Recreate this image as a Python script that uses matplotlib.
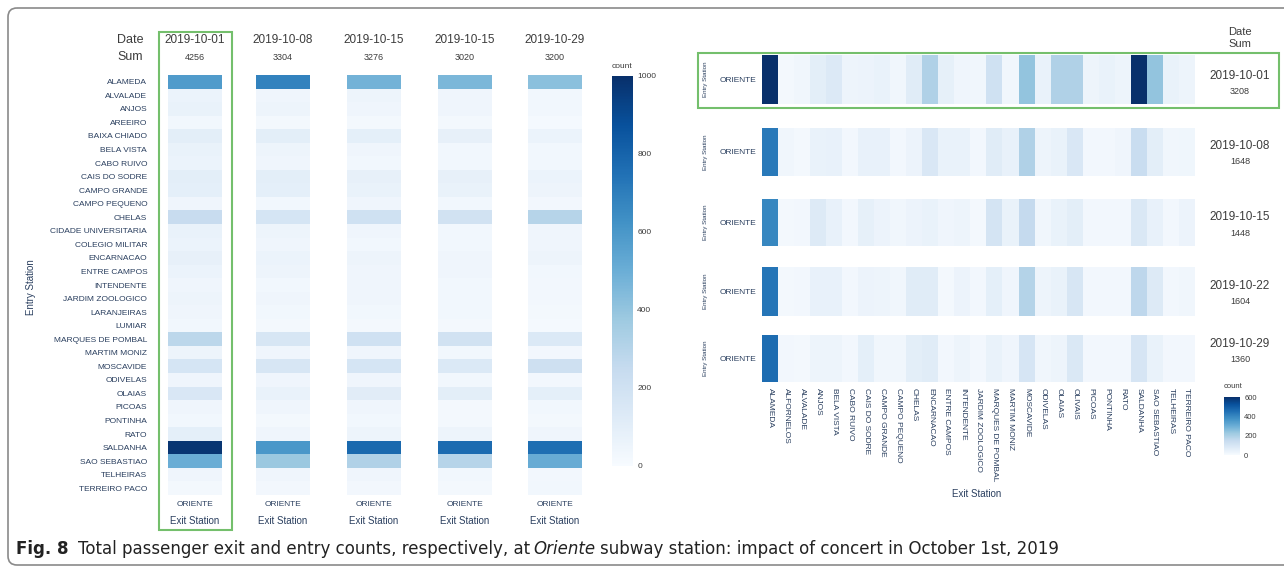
import numpy as np
import matplotlib.pyplot as plt
from matplotlib.patches import FancyBboxPatch, Rectangle

W, H = 1284, 571

# exits at ORIENTE, by station of entry
entry_stations = ['ALAMEDA', 'ALVALADE', 'ANJOS', 'AREEIRO', 'BAIXA CHIADO', 'BELA VISTA',
                  'CABO RUIVO', 'CAIS DO SODRE', 'CAMPO GRANDE', 'CAMPO PEQUENO', 'CHELAS',
                  'CIDADE UNIVERSITARIA', 'COLEGIO MILITAR', 'ENCARNACAO', 'ENTRE CAMPOS',
                  'INTENDENTE', 'JARDIM ZOOLOGICO', 'LARANJEIRAS', 'LUMIAR', 'MARQUES DE POMBAL',
                  'MARTIM MONIZ', 'MOSCAVIDE', 'ODIVELAS', 'OLAIAS', 'PICOAS', 'PONTINHA', 'RATO',
                  'SALDANHA', 'SAO SEBASTIAO', 'TELHEIRAS', 'TERREIRO PACO']
exit_dates = ['2019-10-01', '2019-10-08', '2019-10-15', '2019-10-15', '2019-10-29']
exit_oct01 = [580, 60, 70, 30, 100, 70, 60, 100, 90, 40, 240, 70, 60, 80, 60, 40, 50, 40, 30, 280,
              50, 170, 40, 150, 40, 30, 90, 980, 500, 40, 16]
exit_oct08 = [680, 40, 50, 20, 100, 50, 40, 100, 90, 30, 170, 50, 40, 60, 50, 30, 40, 30, 20, 160,
              40, 160, 40, 70, 40, 20, 40, 600, 380, 40, 24]
exit_oct15 = [480, 50, 40, 20, 90, 40, 30, 80, 70, 40, 200, 40, 30, 50, 40, 40, 40, 30, 20, 200,
              40, 170, 40, 110, 40, 30, 50, 780, 320, 40, 26]
exit_oct22 = [460, 40, 40, 20, 80, 30, 30, 80, 70, 30, 190, 30, 30, 40, 40, 30, 30, 30, 20, 190,
              30, 140, 30, 100, 20, 20, 50, 770, 300, 30, 20]
exit_oct29 = [420, 30, 30, 15, 60, 30, 30, 60, 50, 25, 300, 40, 40, 50, 30, 25, 25, 20, 15, 140,
              25, 210, 25, 90, 30, 20, 40, 760, 510, 25, 30]
exit_counts = [exit_oct01, exit_oct08, exit_oct15, exit_oct22, exit_oct29]

# entries at ORIENTE, by station of exit
exit_stations = ['ALAMEDA', 'ALFORNELOS', 'ALVALADE', 'ANJOS', 'BELA VISTA', 'CABO RUIVO',
                 'CAIS DO SODRE', 'CAMPO GRANDE', 'CAMPO PEQUENO', 'CHELAS', 'ENCARNACAO',
                 'ENTRE CAMPOS', 'INTENDENTE', 'JARDIM ZOOLOGICO', 'MARQUES DE POMBAL',
                 'MARTIM MONIZ', 'MOSCAVIDE', 'ODIVELAS', 'OLAIAS', 'OLIVAIS', 'PICOAS',
                 'PONTINHA', 'RATO', 'SALDANHA', 'SAO SEBASTIAO', 'TELHEIRAS', 'TERREIRO PACO']
entry_dates = ['2019-10-01', '2019-10-08', '2019-10-15', '2019-10-22', '2019-10-29']
entry_oct01 = [665, 10, 20, 60, 80, 30, 35, 40, 20, 70, 190, 50, 25, 20, 120, 20, 240, 40, 190,
               190, 30, 40, 30, 683, 240, 40, 30]
entry_oct08 = [430, 20, 10, 40, 45, 15, 45, 45, 15, 35, 90, 40, 40, 15, 70, 45, 190, 30, 40, 90,
               15, 15, 25, 140, 60, 20, 23]
entry_oct15 = [400, 10, 15, 78, 45, 15, 50, 35, 20, 35, 40, 25, 30, 10, 105, 40, 150, 20, 40, 60,
               15, 15, 15, 85, 45, 15, 35]
entry_oct22 = [440, 10, 15, 45, 45, 15, 35, 30, 20, 70, 70, 10, 35, 15, 55, 25, 185, 30, 40, 95,
               15, 15, 15, 165, 75, 15, 19]
entry_oct29 = [460, 15, 10, 30, 30, 15, 55, 20, 20, 60, 70, 15, 30, 15, 40, 25, 100, 20, 30, 85,
               15, 15, 15, 100, 40, 15, 15]
entry_counts = [entry_oct01, entry_oct08, entry_oct15, entry_oct22, entry_oct29]

TICK = '#2a3f5f'
TITLE = '#3c3c3c'
GREEN = '#74bf6c'
plt.rcParams['font.family'] = ['Liberation Sans', 'DejaVu Sans']

fig = plt.figure(figsize=(W / 100, H / 100), dpi=100)


def px_axes(x0, y0, x1, y1):
    return fig.add_axes([x0 / W, 1 - y1 / H, (x1 - x0) / W, (y1 - y0) / H])


def clean(ax):
    for s in ax.spines.values():
        s.set_visible(False)
    ax.tick_params(length=0, colors=TICK, labelcolor=TICK)


# overlay in pixel coordinates for frame, boxes and free text
ov = fig.add_axes([0, 0, 1, 1])
ov.set_xlim(0, W)
ov.set_ylim(H, 0)
ov.axis('off')
ov.set_zorder(10)
ov.add_patch(FancyBboxPatch((8, 8), 1300, 557, boxstyle='round,pad=0,rounding_size=9',
                            fc='none', ec='#8a8a8a', lw=1.2))

# ---- left: exits at ORIENTE ----
col_x = [(168, 222), (256, 310), (347, 401), (438, 492), (528, 582)]
for i, (x0, x1) in enumerate(col_x):
    ax = px_axes(x0, 75, x1, 495)
    im = ax.imshow(np.array(exit_counts[i])[:, None], cmap='Blues', vmin=0, vmax=1000,
                   aspect='auto', interpolation='nearest')
    clean(ax)
    ax.set_xticks([0])
    ax.set_xticklabels(['ORIENTE'], fontsize=6)
    ax.tick_params(axis='x', pad=4)
    if i == 0:
        ax.set_yticks(range(len(entry_stations)))
        ax.set_yticklabels(entry_stations, fontsize=6)
        ax.tick_params(axis='y', pad=15)
    else:
        ax.set_yticks([])
    cx = (x0 + x1) / 2
    ov.text(cx, 40, exit_dates[i], ha='center', va='center', fontsize=8.5, color=TITLE)
    ov.text(cx, 57, str(sum(exit_counts[i])), ha='center', va='center', fontsize=6.5, color=TITLE)
    ov.text(cx, 521, 'Exit Station', ha='center', va='center', fontsize=7, color=TICK)

ov.text(143, 40, 'Date', ha='right', va='center', fontsize=9, color=TITLE)
ov.text(143, 57, 'Sum', ha='right', va='center', fontsize=9, color=TITLE)
ov.text(31, 287, 'Entry Station', ha='center', va='center', rotation=90, fontsize=7, color=TICK)
ov.add_patch(Rectangle((159, 32), 73, 498, fc='none', ec=GREEN, lw=1.5))

cax = px_axes(612, 76, 633, 466)
cb = fig.colorbar(im, cax=cax, ticks=[0, 200, 400, 600, 800, 1000])
cb.outline.set_visible(False)
cax.tick_params(length=0, labelsize=6, labelcolor=TITLE, pad=3)
ov.text(612, 66, 'count', ha='left', va='center', fontsize=6, color=TITLE)

# ---- right: entries at ORIENTE ----
strip_y = [(55, 104), (128, 176), (199, 246), (267, 316), (335, 382)]
date_y = [76, 146, 217, 286, 344]
for i, (y0, y1) in enumerate(strip_y):
    ax = px_axes(762, y0, 1195, y1)
    im2 = ax.imshow(np.array(entry_counts[i])[None, :], cmap='Blues', vmin=0, vmax=600,
                    aspect='auto', interpolation='nearest')
    clean(ax)
    ax.set_yticks([0])
    ax.set_yticklabels(['ORIENTE'], fontsize=6)
    ax.tick_params(axis='y', pad=4)
    if i == len(strip_y) - 1:
        ax.set_xticks(range(len(exit_stations)))
        ax.set_xticklabels(exit_stations, rotation=-90, fontsize=6)
        ax.tick_params(axis='x', pad=4)
    else:
        ax.set_xticks([])
    cy = (y0 + y1) / 2
    ov.text(706, cy, 'Entry Station', ha='center', va='center', rotation=90, fontsize=4.5, color=TICK)
    ov.text(1240, date_y[i], entry_dates[i], ha='center', va='center', fontsize=8.5, color=TITLE)
    ov.text(1240, date_y[i] + 16, str(sum(entry_counts[i])), ha='center', va='center',
            fontsize=6.5, color=TITLE)

ov.text(1240, 32, 'Date', ha='center', va='center', fontsize=8, color=TITLE)
ov.text(1240, 44, 'Sum', ha='center', va='center', fontsize=8, color=TITLE)
ov.text(977, 494, 'Exit Station', ha='center', va='center', fontsize=7, color=TICK)
ov.add_patch(Rectangle((698, 53), 581, 55, fc='none', ec=GREEN, lw=1.5))

cax2 = px_axes(1224, 397, 1240, 455)
cb2 = fig.colorbar(im2, cax=cax2, ticks=[0, 200, 400, 600])
cb2.outline.set_visible(False)
cax2.tick_params(length=0, labelsize=5.5, labelcolor=TITLE, pad=3)
ov.text(1224, 386, 'count', ha='left', va='center', fontsize=5.5, color=TITLE)

# ---- caption, placed piece by piece ----
cap_font = ['Liberation Sans Narrow', 'DejaVu Sans']
r = fig.canvas.get_renderer()
t = ov.text(16, 549, 'Fig. 8', ha='left', va='center', fontsize=12, fontweight='bold',
            family=cap_font, color='#222')
x = t.get_window_extent(r).x1 + 9
t = ov.text(x, 549, 'Total passenger exit and entry counts, respectively, at', ha='left',
            va='center', fontsize=12, family=cap_font, color='#222')
x = t.get_window_extent(r).x1 + 4
t = ov.text(x, 549, 'Oriente', ha='left', va='center', fontsize=12, style='italic',
            family=cap_font, color='#222')
x = t.get_window_extent(r).x1 + 4
ov.text(x, 549, 'subway station: impact of concert in October 1st, 2019', ha='left',
        va='center', fontsize=12, family=cap_font, color='#222')

fig.savefig('out.png', dpi=100, facecolor='white')
